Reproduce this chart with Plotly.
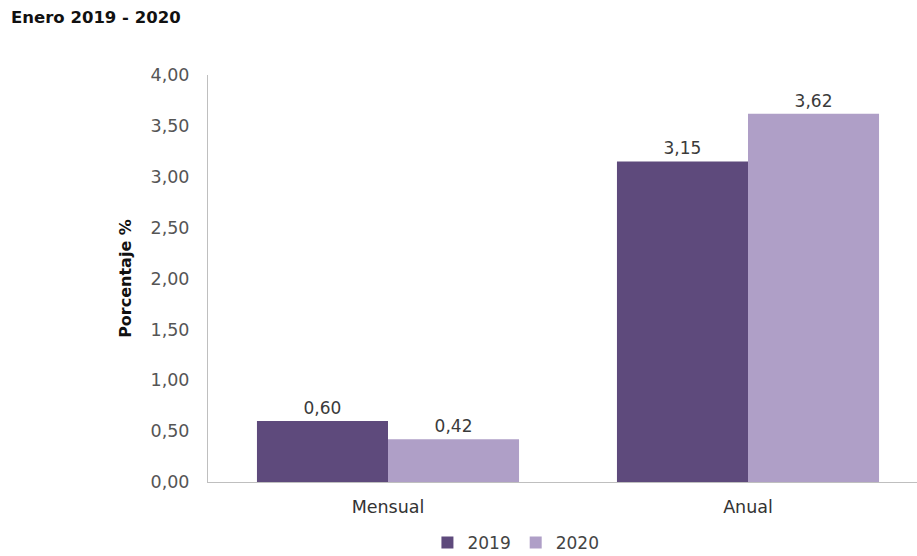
import plotly.graph_objects as go

categories = ["Mensual", "Anual"]
series_names = ["2019", "2020"]
values_2019 = [0.60, 3.15]
values_2020 = [0.42, 3.62]
y_ticks = [0, 0.5, 1, 1.5, 2, 2.5, 3, 3.5, 4]

colors = {"2019": "#5E4A7C", "2020": "#AF9FC7"}
FONT = "DejaVu Sans"

fig = go.Figure()
for name, vals in zip(series_names, [values_2019, values_2020]):
    fig.add_trace(go.Bar(
        x=categories, y=vals, name=name,
        marker=dict(color=colors[name], line=dict(width=0)),
        texttemplate="%{y:.2f}", textposition="outside",
        textfont=dict(family=FONT, size=17, color="#3A3A3A"),
        cliponaxis=False,
    ))

fig.update_layout(
    width=917, height=556,
    margin=dict(l=208, r=0, t=75, b=74, autoexpand=False),
    paper_bgcolor="white", plot_bgcolor="white",
    separators=", ",
    barmode="group", bargap=0.272, bargroupgap=0,
    font=dict(family=FONT, size=17, color="#444444"),
    showlegend=True,
    legend=dict(orientation="h", x=0.3095, xanchor="left", y=-(543 - 482) / 407, yanchor="middle",
                font=dict(family=FONT, size=17, color="#444444"),
                itemwidth=30, traceorder="normal", tracegroupgap=0),
)
fig.add_annotation(text="<b>Enero 2019 - 2020</b>", xref="paper", yref="paper",
                   x=(9 - 208) / 709, y=1 + (75 - 18) / 407, xanchor="left", yanchor="middle",
                   showarrow=False, font=dict(family=FONT, size=16.5, color="#111111"))

fig.update_xaxes(range=[-0.5, 1.5 - 11/360], showline=True, linecolor="#BFBFBF", linewidth=1,
                 showgrid=False, ticks="", tickfont=dict(family=FONT, size=17.5, color="#333333"),
                 ticklabelstandoff=9)
fig.update_yaxes(range=[0, 4], tickvals=y_ticks, tickformat=".2f", showline=True,
                 linecolor="#BFBFBF", linewidth=1, showgrid=False, zeroline=False,
                 ticks="", tickfont=dict(family=FONT, size=17.5, color="#555555"), ticklabelstandoff=14,
                 title=dict(text="<b>Porcentaje %</b>", standoff=14,
                            font=dict(family=FONT, size=16, color="#111111")))

fig.write_html("out.html")
